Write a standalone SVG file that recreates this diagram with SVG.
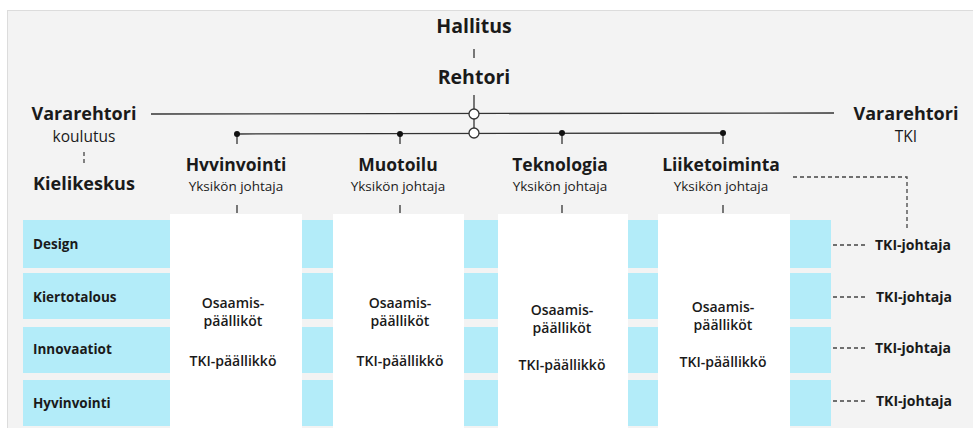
<svg xmlns="http://www.w3.org/2000/svg" width="973" height="428" viewBox="0 0 973 428">
<style>
text{font-family:"Open Sans","Noto Sans","Liberation Sans",sans-serif;fill:#1a1a1a}
.h{font-size:19.5px;font-weight:700;text-anchor:middle}
.v{font-size:18px;font-weight:700;text-anchor:middle}
.s{font-size:15.5px;text-anchor:middle}
.y{font-size:13.5px;text-anchor:middle}
.u{font-size:17.5px;font-weight:700;text-anchor:middle}
.r{font-size:13.5px;font-weight:700}
.c{font-size:14px;font-weight:600;text-anchor:middle}
.t{font-size:14px;font-weight:700}
.ln{stroke:#333;stroke-width:1.3;fill:none}
.dl{stroke:#444;stroke-width:1.3;fill:none;stroke-dasharray:4 3}
.blue{fill:#b3ecf9}
.col{fill:#ffffff}
</style>
<rect x="0" y="0" width="973" height="428" fill="#ffffff"/>
<rect x="7.5" y="10.5" width="970" height="425" fill="#f3f3f3" stroke="#dcdcdc" stroke-width="1"/>
<g id="rows">
<rect class="blue" x="23" y="220" width="808" height="48"/>
<rect class="blue" x="23" y="273" width="808" height="46"/>
<rect class="blue" x="23" y="327" width="808" height="46"/>
<rect class="blue" x="23" y="380" width="808" height="46"/>
</g>
<g id="columns">
<rect class="col" x="170" y="214" width="132" height="214"/>
<rect class="col" x="333" y="214" width="131" height="214"/>
<rect class="col" x="498" y="214" width="130" height="214"/>
<rect class="col" x="658" y="214" width="132" height="214"/>
</g>
<g id="connectors">
<line class="ln" x1="474" y1="49" x2="474" y2="58"/>
<line class="ln" x1="474" y1="95" x2="474" y2="133"/>
<line class="ln" x1="151" y1="114" x2="834" y2="113"/>
<line class="ln" x1="237" y1="134" x2="723" y2="133"/>
<line class="ln" x1="237" y1="134" x2="237" y2="144"/>
<line class="ln" x1="400" y1="134" x2="400" y2="144"/>
<line class="ln" x1="562" y1="133" x2="562" y2="144"/>
<line class="ln" x1="723" y1="133" x2="723" y2="144"/>
<line class="ln" x1="237" y1="205" x2="237" y2="213"/>
<line class="ln" x1="400" y1="205" x2="400" y2="213"/>
<line class="ln" x1="562" y1="205" x2="562" y2="213"/>
<line class="ln" x1="723" y1="205" x2="723" y2="213"/>
<line class="dl" x1="84" y1="152" x2="84" y2="166" stroke-dasharray="3 2"/>
<polyline class="dl" points="793,177 907,177 907,228"/>
<line class="dl" x1="833" y1="245" x2="865" y2="245"/>
<line class="dl" x1="833" y1="297" x2="865" y2="297"/>
<line class="dl" x1="833" y1="348" x2="865" y2="348"/>
<line class="dl" x1="833" y1="401" x2="865" y2="401"/>
<circle cx="474" cy="114" r="5" fill="#fff" stroke="#333" stroke-width="1.3"/>
<circle cx="474" cy="133" r="5" fill="#fff" stroke="#333" stroke-width="1.3"/>
<circle cx="237" cy="134" r="3" fill="#111"/>
<circle cx="400" cy="134" r="3" fill="#111"/>
<circle cx="562" cy="133" r="3" fill="#111"/>
<circle cx="723" cy="133" r="3" fill="#111"/>
</g>
<g id="hallitus"><text class="h" x="474" y="33">Hallitus</text></g>
<g id="rehtori"><text class="h" x="474" y="84">Rehtori</text></g>
<g id="vararehtori-koulutus"><text class="v" x="84" y="120">Vararehtori</text><text class="s" x="84" y="142">koulutus</text></g>
<g id="kielikeskus"><text class="v" x="84" y="190">Kielikeskus</text></g>
<g id="vararehtori-tki"><text class="v" x="906" y="120">Vararehtori</text><text class="s" x="906" y="142">TKI</text></g>
<g id="unit-hyvinvointi"><text class="u" x="236" y="171">Hvvinvointi</text><text class="y" x="236" y="191">Yksikön johtaja</text></g>
<g id="unit-muotoilu"><text class="u" x="398" y="171">Muotoilu</text><text class="y" x="398" y="191">Yksikön johtaja</text></g>
<g id="unit-teknologia"><text class="u" x="560" y="171">Teknologia</text><text class="y" x="560" y="191">Yksikön johtaja</text></g>
<g id="unit-liiketoiminta"><text class="u" x="721" y="171">Liiketoiminta</text><text class="y" x="721" y="191">Yksikön johtaja</text></g>
<g id="row-design"><text class="r" x="33" y="249">Design</text></g>
<g id="row-kiertotalous"><text class="r" x="33" y="302">Kiertotalous</text></g>
<g id="row-innovaatiot"><text class="r" x="33" y="354">Innovaatiot</text></g>
<g id="row-hyvinvointi"><text class="r" x="33" y="408">Hyvinvointi</text></g>
<g id="col-1"><text class="c" x="233" y="308">Osaamis-</text><text class="c" x="233" y="326">päälliköt</text><text class="c" x="233" y="366">TKI-päällikkö</text></g>
<g id="col-2"><text class="c" x="400" y="308">Osaamis-</text><text class="c" x="400" y="326">päälliköt</text><text class="c" x="400" y="366">TKI-päällikkö</text></g>
<g id="col-3"><text class="c" x="562" y="315">Osaamis-</text><text class="c" x="562" y="333">päälliköt</text><text class="c" x="562" y="370">TKI-päällikkö</text></g>
<g id="col-4"><text class="c" x="723" y="312">Osaamis-</text><text class="c" x="723" y="330">päälliköt</text><text class="c" x="723" y="367">TKI-päällikkö</text></g>
<g id="tki-johtaja-1"><text class="t" x="875" y="250">TKI-johtaja</text></g>
<g id="tki-johtaja-2"><text class="t" x="876" y="302">TKI-johtaja</text></g>
<g id="tki-johtaja-3"><text class="t" x="875" y="353">TKI-johtaja</text></g>
<g id="tki-johtaja-4"><text class="t" x="876" y="406">TKI-johtaja</text></g>
</svg>
